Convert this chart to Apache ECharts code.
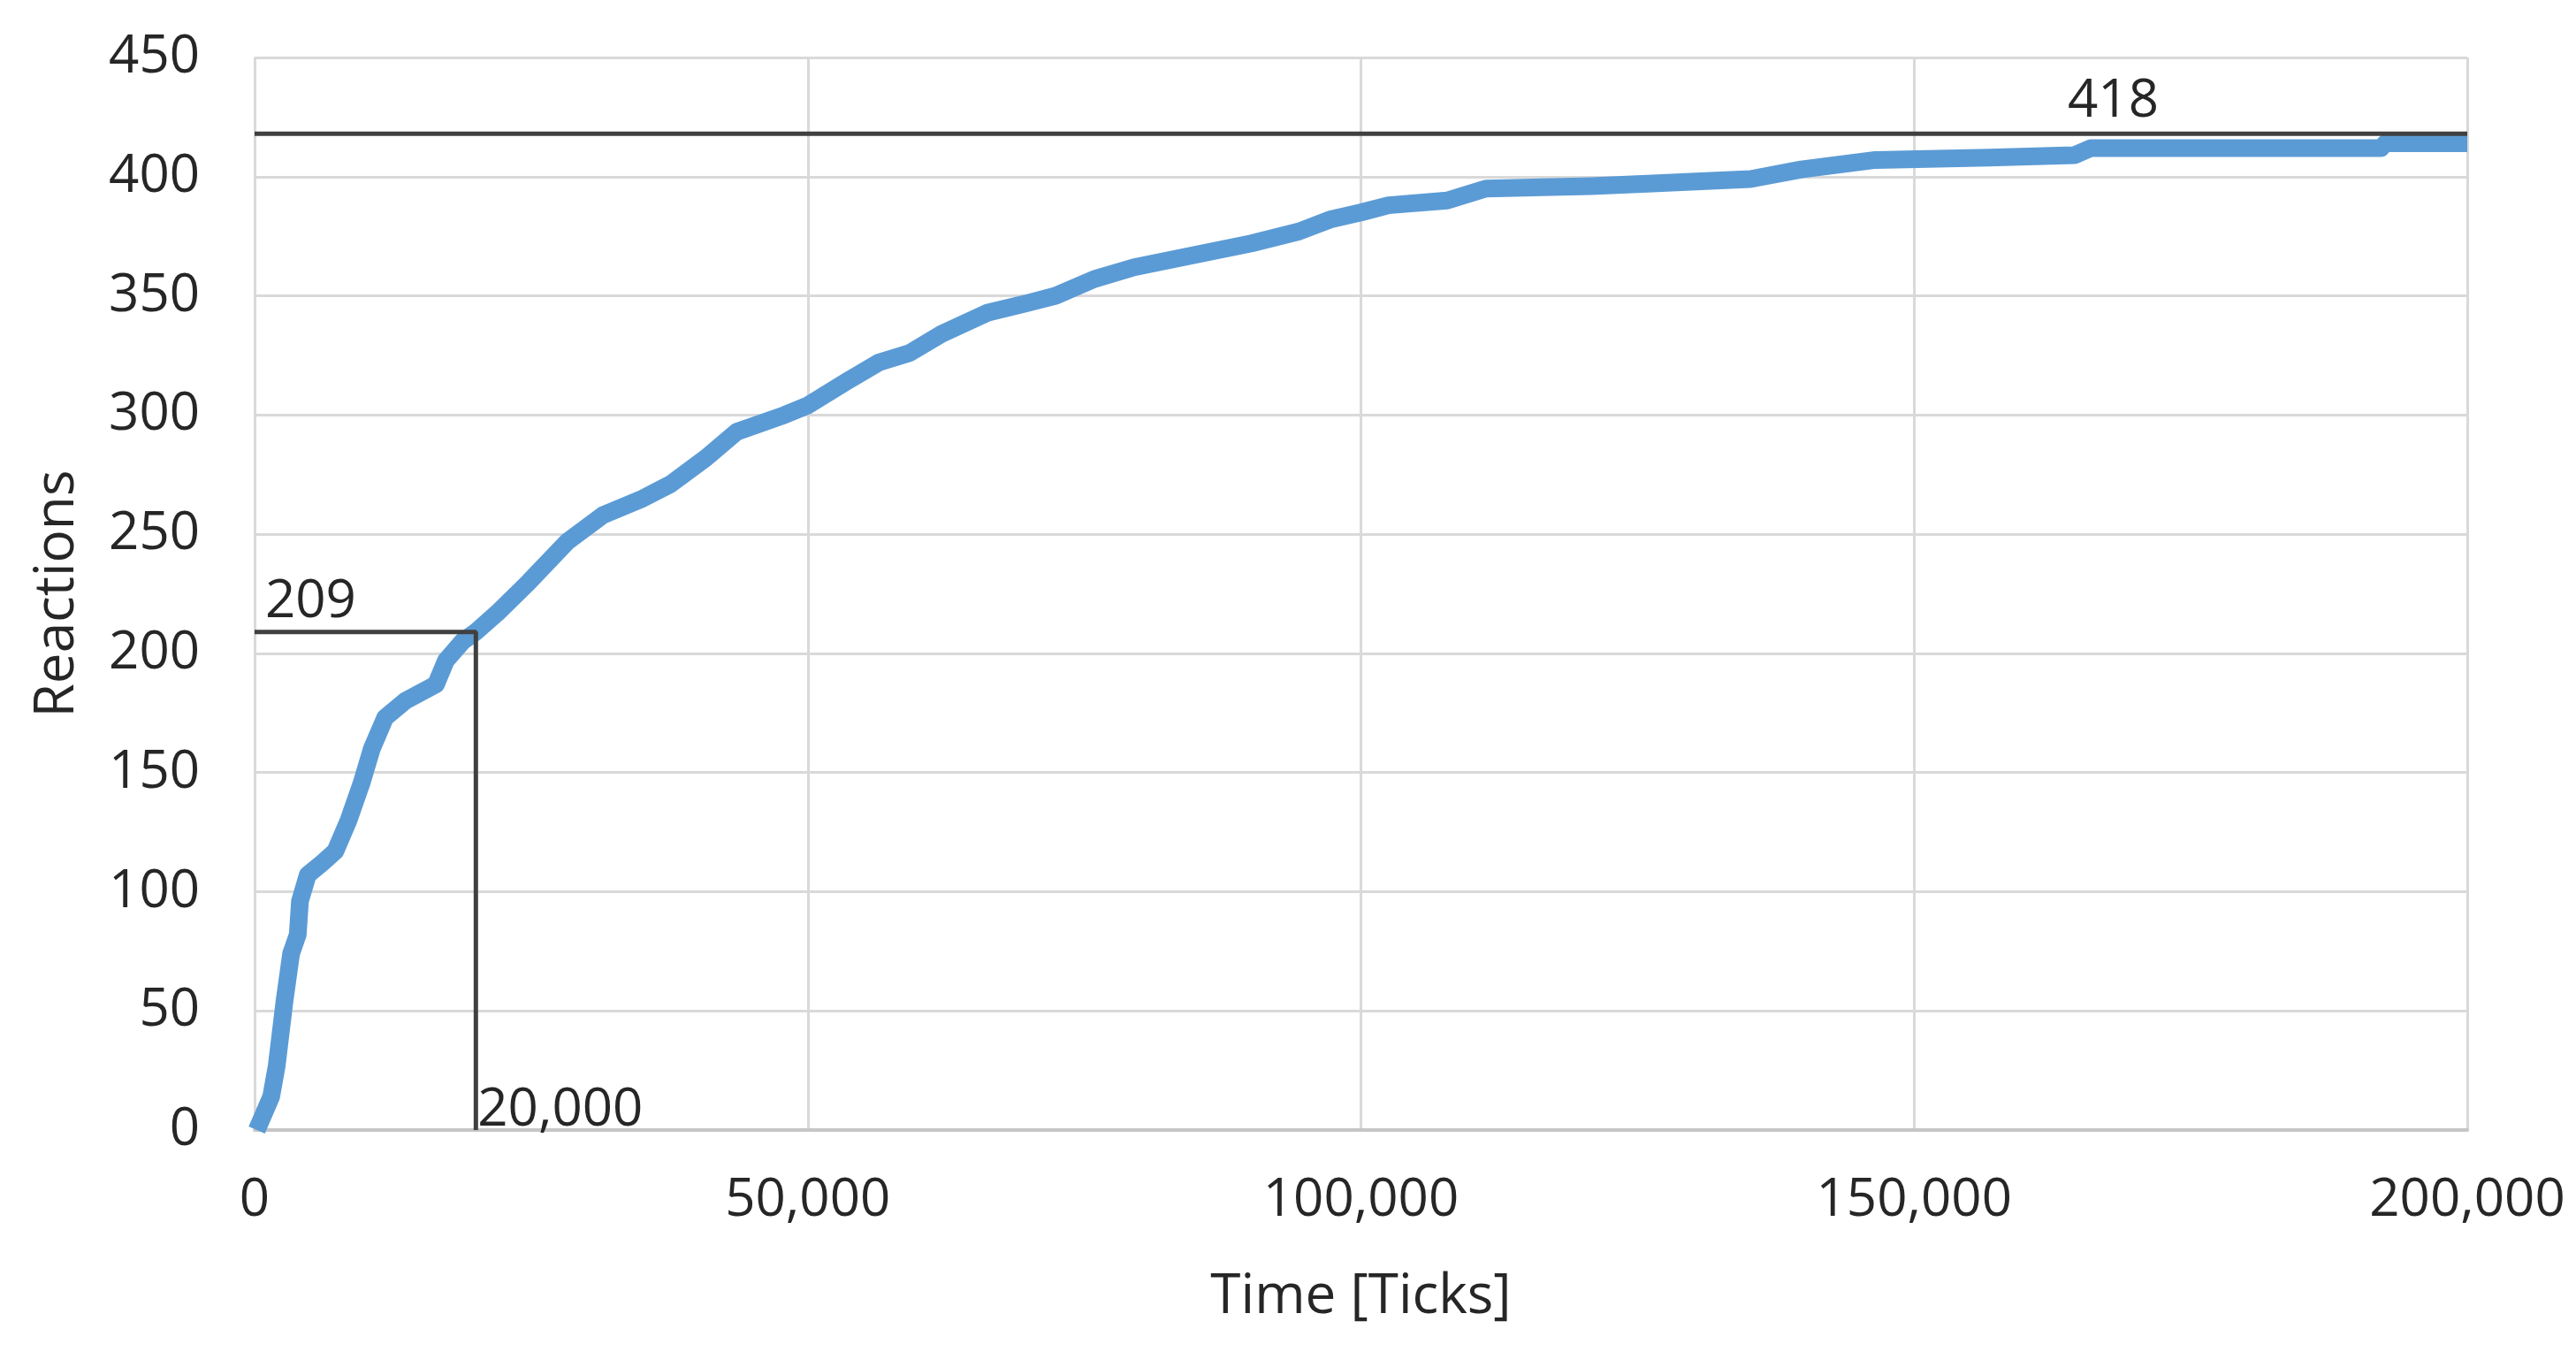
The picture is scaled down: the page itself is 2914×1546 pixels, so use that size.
<!DOCTYPE html>
<html>
<head>
<meta charset="utf-8">
<script src="https://cdn.jsdelivr.net/npm/echarts@6/dist/echarts.min.js"></script>
<style>
  html, body { margin: 0; padding: 0; background: #fff; }
  #chart { width: 2914px; height: 1546px; }
</style>
</head>
<body>
<div id="chart"></div>
<script>
// time in ticks
var timeTicks = [200, 1500, 2000, 2700, 3300, 3900, 4100, 4800, 6100, 7300, 8500, 9700, 10600, 11800,
  13600, 16400, 17300, 18800, 20000, 21950, 24800, 28300, 31500, 35100, 37600, 40800, 43600, 47900,
  50000, 53500, 56400, 59200, 62100, 66300, 69900, 72400, 75900, 79500, 84800, 90100, 94400, 97200,
  100000, 102500, 107800, 111300, 120800, 125900, 135200, 139800, 146500, 156800, 164500, 166000,
  182400, 192200, 192600, 200000];
var reactions = [0, 14, 27, 54, 74, 82, 96, 107, 112, 117, 130, 146, 160, 173,
  180, 187, 197, 205, 209, 217, 230, 247, 258, 265, 271, 282, 293, 300,
  304, 314, 322, 326, 334, 343, 347, 350, 357, 362, 367, 372, 377, 382,
  385, 388, 390, 395, 396, 397, 399, 403, 407, 408, 409, 412,
  412, 412, 414, 414];

// reference lines: maximum and half-way marker
var maxLine = [[0, 418], [200000, 418]];
var halfLine = [[0, 209], [20000, 209], [20000, 0]];
var refLabels = [
  {x: 168000, y: 418, text: '418', align: 'center', dx: 0, dy: -6},
  {x: 0, y: 209, text: '209', align: 'left', dx: 12, dy: -4},
  {x: 20000, y: 0, text: '20,000', align: 'left', dx: 2, dy: 8}
];

var xTicks = {min: 0, max: 200000, interval: 50000};
var yTicks = {min: 0, max: 450, interval: 50};

var curve = [];
for (var i = 0; i < timeTicks.length; i++) {
  curve.push([timeTicks[i], reactions[i]]);
}

var myChart = echarts.init(document.getElementById('chart'));
var font = '"Open Sans", "Noto Sans", sans-serif';
var textColor = '#262626';

var option = {
  backgroundColor: '#ffffff',
  animation: false,
  grid: {left: 288, right: 123, top: 65, bottom: 268},
  xAxis: {
    type: 'value',
    min: xTicks.min, max: xTicks.max, interval: xTicks.interval,
    name: 'Time [Ticks]',
    nameLocation: 'middle',
    nameGap: 158,
    nameTextStyle: {fontFamily: font, fontSize: 62, color: textColor},
    axisLine: {show: true, lineStyle: {color: '#c6c6c6', width: 4}},
    axisTick: {show: false},
    axisLabel: {
      fontFamily: font, fontSize: 60, color: textColor, margin: 50,
      formatter: function (v) { return v.toLocaleString('en-US'); }
    },
    splitLine: {show: true, lineStyle: {color: '#d9d9d9', width: 3}}
  },
  yAxis: {
    type: 'value',
    min: yTicks.min, max: yTicks.max, interval: yTicks.interval,
    name: 'Reactions',
    nameLocation: 'middle',
    nameGap: 192,
    nameTextStyle: {fontFamily: font, fontSize: 62, color: textColor},
    axisLine: {show: false},
    axisTick: {show: false},
    axisLabel: {fontFamily: font, fontSize: 60, color: textColor, margin: 62},
    splitLine: {show: true, lineStyle: {color: '#d9d9d9', width: 3}}
  },
  series: [
    {
      name: 'Reactions',
      type: 'line',
      data: curve,
      showSymbol: false,
      lineStyle: {color: '#5b9bd5', width: 20, join: 'round'},
      z: 3
    },
    {
      type: 'line',
      data: maxLine,
      showSymbol: false,
      lineStyle: {color: '#404040', width: 5},
      z: 4
    },
    {
      type: 'line',
      data: halfLine,
      showSymbol: false,
      lineStyle: {color: '#404040', width: 5},
      z: 4
    },
    {
      type: 'scatter',
      symbolSize: 0,
      itemStyle: {opacity: 1},
      data: refLabels.map(function (d) {
        return {
          value: [d.x, d.y],
          label: {
            show: true,
            formatter: d.text,
            position: 'top',
            align: d.align,
            offset: [d.dx, d.dy],
            distance: 0,
            fontFamily: font,
            fontSize: 60,
            color: textColor,
            opacity: 1
          }
        };
      }),
      z: 5
    }
  ]
};

myChart.setOption(option);
window.addEventListener('resize', function () {
  myChart.resize();
});
</script>
</body>
</html>
